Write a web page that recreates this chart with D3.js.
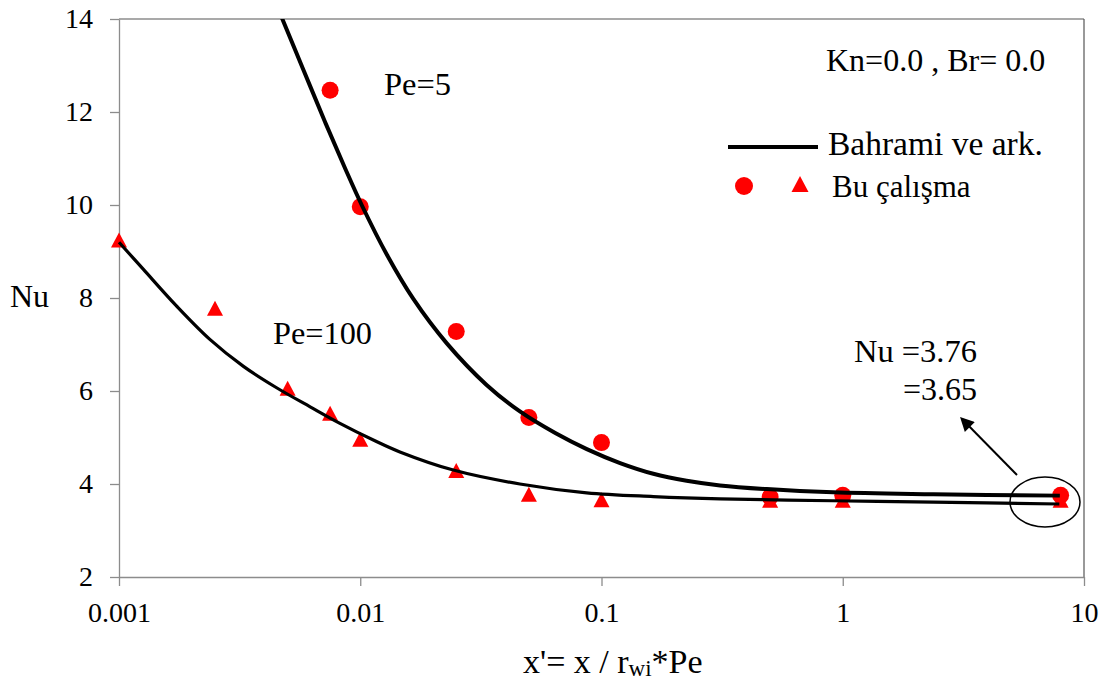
<!DOCTYPE html>
<html>
<head>
<meta charset="utf-8">
<script src="https://cdn.jsdelivr.net/npm/d3@7"></script>
<style>
  html, body { margin: 0; padding: 0; background: #fff; }
  svg { display: block; }
  svg text { font-family: "Liberation Serif", Tinos, "Times New Roman", Times, "DejaVu Serif", "Noto Serif", serif; }
</style>
</head>
<body>
<svg id="chart" width="1109" height="683"></svg>
<script>
// ---- data ----
const xTicks = [0.001, 0.01, 0.1, 1, 10];
const xTickLabels = ["0.001", "0.01", "0.1", "1", "10"];
const yTicks = [2, 4, 6, 8, 10, 12, 14];
const yTickLabels = ["2", "4", "6", "8", "10", "12", "14"];

// Bu çalışma, Pe=5 (circles)
const pe5X  = [0.0075, 0.01, 0.025, 0.05, 0.1, 0.5, 1, 8];
const pe5Nu = [12.47, 9.96, 7.28, 5.43, 4.89, 3.72, 3.76, 3.76];
// Bu çalışma, Pe=100 (triangles)
const pe100X  = [0.001, 0.0025, 0.005, 0.0075, 0.01, 0.025, 0.05, 0.1, 0.5, 1, 8];
const pe100Nu = [9.25, 7.78, 6.06, 5.52, 4.96, 4.29, 3.78, 3.66, 3.65, 3.65, 3.65];

// Bahrami ve ark. curves
const bahPe5X  = [0.00472, 0.00581, 0.00714, 0.00865, 0.01014, 0.0129, 0.0166, 0.0228, 0.0334, 0.0459, 0.0646, 0.0869, 0.1194, 0.164, 0.2254, 0.31, 0.484, 0.912, 2.37, 7.94];
const bahPe5Nu = [14.04, 12.91, 11.79, 10.79, 10.0, 8.93, 7.98, 7.03, 6.13, 5.56, 5.09, 4.75, 4.45, 4.22, 4.07, 3.97, 3.89, 3.82, 3.78, 3.75];
const bahPe100X  = [0.001, 0.00126, 0.00173, 0.00238, 0.00328, 0.0045, 0.0062, 0.0082, 0.0115, 0.0146, 0.0243, 0.0459, 0.0868, 0.164, 0.31, 0.91, 2.37, 7.9];
const bahPe100Nu = [9.20, 8.62, 7.83, 7.11, 6.53, 6.07, 5.66, 5.31, 4.93, 4.69, 4.30, 4.00, 3.81, 3.73, 3.68, 3.64, 3.61, 3.57];

// ---- layout ----
const svg = d3.select("#chart");
const L = 119, R = 1084, T = 19, B = 577;
const x = d3.scaleLog().domain([0.001, 10]).range([L, R]);
const y = d3.scaleLinear().domain([2, 14]).range([B, T]);

const axisGray = "#8c8c8c";
const red = "#ff0000";
const serif = '"Liberation Serif", Tinos, "Times New Roman", Times, "DejaVu Serif", "Noto Serif", serif';

// frame top/right
svg.append("line").attr("x1", L).attr("x2", R).attr("y1", T).attr("y2", T)
  .attr("stroke", "#555").attr("stroke-width", 1.2);
svg.append("line").attr("x1", R).attr("x2", R).attr("y1", T).attr("y2", B)
  .attr("stroke", "#555").attr("stroke-width", 1.2);

// axes
const gy = svg.append("g").attr("transform", `translate(${L},0)`)
  .call(d3.axisLeft(y).tickValues(yTicks).tickFormat((d, i) => yTickLabels[i])
    .tickSize(9).tickSizeOuter(0).tickPadding(17));
const gx = svg.append("g").attr("transform", `translate(0,${B})`)
  .call(d3.axisBottom(x).tickValues(xTicks).tickFormat((d, i) => xTickLabels[i])
    .tickSize(9).tickSizeOuter(0).tickPadding(16));
[gx, gy].forEach(g => {
  g.attr("font-family", null);
  g.select(".domain").attr("stroke", axisGray).attr("stroke-width", 1.3);
  g.selectAll(".tick line").attr("stroke", axisGray).attr("stroke-width", 1.3);
  g.selectAll(".tick text").attr("fill", "#000").attr("font-size", 28)
    .style("font-family", serif);
});

// clip
svg.append("clipPath").attr("id", "clip").append("rect")
  .attr("x", L).attr("y", T).attr("width", R - L).attr("height", B - T);

// triangle path centered on bbox
function tri(cx, cy, w, h) {
  return `M${cx},${cy - h / 2}L${cx + w / 2},${cy + h / 2}L${cx - w / 2},${cy + h / 2}Z`;
}

// markers
const marks = svg.append("g");
marks.selectAll("path.tri").data(pe100X.map((v, i) => [v, pe100Nu[i]])).join("path")
  .attr("class", "tri").attr("fill", red)
  .attr("d", d => tri(x(d[0]), y(d[1]), 16, 15));
marks.selectAll("circle").data(pe5X.map((v, i) => [v, pe5Nu[i]])).join("circle")
  .attr("fill", red).attr("r", 8.5)
  .attr("cx", d => x(d[0])).attr("cy", d => y(d[1]));

// curves
const line = d3.line().x(d => x(d[0])).y(d => y(d[1])).curve(d3.curveCatmullRom.alpha(0.5));
svg.append("path").attr("clip-path", "url(#clip)")
  .datum(bahPe5X.map((v, i) => [v, bahPe5Nu[i]]))
  .attr("d", line).attr("fill", "none").attr("stroke", "#000").attr("stroke-width", 4);
svg.append("path")
  .datum(bahPe100X.map((v, i) => [v, bahPe100Nu[i]]))
  .attr("d", line).attr("fill", "none").attr("stroke", "#000").attr("stroke-width", 3.2);

// ellipse + arrow annotation
svg.append("ellipse").attr("cx", 1045).attr("cy", 502).attr("rx", 35).attr("ry", 25)
  .attr("fill", "none").attr("stroke", "#000").attr("stroke-width", 1.5);
svg.append("defs").append("marker").attr("id", "arrow")
  .attr("viewBox", "0 0 10 10").attr("refX", 8).attr("refY", 5)
  .attr("markerWidth", 8).attr("markerHeight", 7).attr("orient", "auto-start-reverse")
  .append("path").attr("d", "M0,0L10,5L0,10Z").attr("fill", "#000");
svg.append("line").attr("x1", 1017).attr("y1", 475).attr("x2", 962).attr("y2", 419)
  .attr("stroke", "#000").attr("stroke-width", 2).attr("marker-end", "url(#arrow)");

// text
function txt(s, px, py, size, anchor) {
  return svg.append("text").attr("x", px).attr("y", py).attr("font-size", size)
    .attr("text-anchor", anchor || "start").attr("fill", "#000").text(s);
}
txt("Pe=5", 384, 95, 32.5);
txt("Pe=100", 273, 344, 32.3);
txt("Kn=0.0 , Br= 0.0", 826, 71, 32);
txt("Nu =3.76", 977, 362, 32.5, "end");
txt("=3.65", 977, 400, 32, "end");
txt("Nu", 10, 307, 32);

// legend
svg.append("line").attr("x1", 728).attr("x2", 818).attr("y1", 147).attr("y2", 147)
  .attr("stroke", "#000").attr("stroke-width", 4);
txt("Bahrami ve ark.", 828, 155, 33.5);
svg.append("circle").attr("cx", 744).attr("cy", 186).attr("r", 9).attr("fill", red);
svg.append("path").attr("d", tri(800, 184, 17, 16)).attr("fill", red);
txt("Bu çalışma", 832, 197, 31);

// x axis title with subscript
const xt = svg.append("text").attr("x", 523).attr("y", 673).attr("font-size", 34).attr("fill", "#000");
xt.append("tspan").text("x'= x / r");
xt.append("tspan").attr("font-size", 23).attr("dy", 3).text("wi");
xt.append("tspan").attr("dy", -3).text("*Pe");
</script>
</body>
</html>
